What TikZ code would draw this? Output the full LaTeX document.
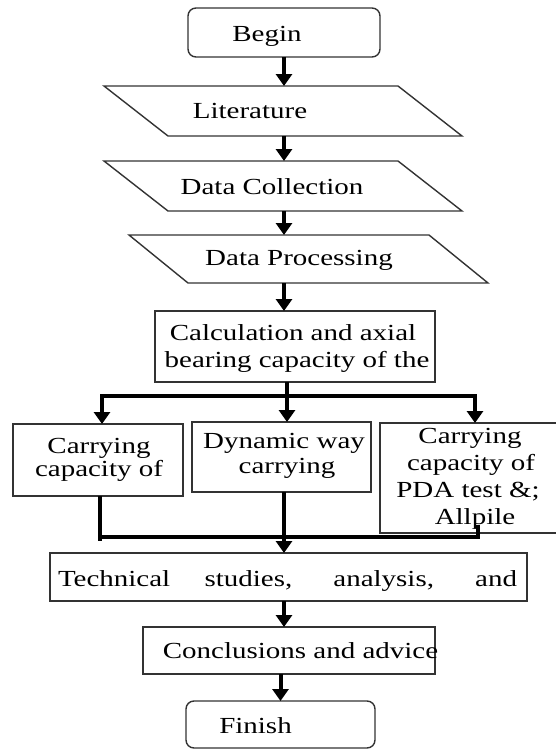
\documentclass[tikz,border=0pt]{standalone}
\usepackage{fontspec}
\setmainfont{Liberation Serif}[FakeStretch=1.26]
\usetikzlibrary{arrows.meta}
\begin{document}
\begin{tikzpicture}[x=1pt,y=-1pt,
  box/.style={draw=black!80,line width=1.4pt,inner sep=0pt,outer sep=0pt,rectangle},
  rbox/.style={box,rounded corners=8pt},
  ghost/.style={inner sep=0pt,outer sep=0pt,rectangle},
  pline/.style={draw=black!80,line width=1.4pt,line join=miter},
  lbl/.style={inner sep=0pt,outer sep=0pt,anchor=base,font=\fontsize{23}{27}\selectfont},
  arr/.style={line width=4pt,-{Triangle[width=16pt,length=12pt]}},
  ln/.style={line width=4pt}]
\useasboundingbox (0,0) rectangle (555,750);
% Begin
\node[rbox,minimum width=192pt,minimum height=49pt] (begin) at (284,32.5) {};
\node[lbl] (tbegin) at (267,41) {Begin};
% Literature
\node[ghost,minimum width=358pt,minimum height=50pt] (lit) at (283,111) {};
\draw[pline] (lit.north west) -- ++(294,0) -- (lit.south east) -- ++(-294,0) -- cycle;
\node[lbl] (tlit) at (250,118) {Literature};
% Data Collection
\node[ghost,minimum width=358pt,minimum height=50pt] (dc) at (283,186) {};
\draw[pline] (dc.north west) -- ++(294,0) -- (dc.south east) -- ++(-294,0) -- cycle;
\node[lbl] (tdc) at (272,194) {Data Collection};
% Data Processing
\node[ghost,minimum width=359pt,minimum height=48pt] (dp) at (308.5,259) {};
\draw[pline] (dp.north west) -- ++(300,0) -- (dp.south east) -- ++(-300,0) -- cycle;
\node[lbl] (tdp) at (299,265) {Data Processing};
% Calculation
\node[box,minimum width=280pt,minimum height=71pt] (calc) at (295,346.5) {};
\node[lbl] (tcalc1) at (293,340) {Calculation and axial};
\node[lbl] (tcalc2) at (297,367) {bearing capacity of the};
% three boxes
\node[box,minimum width=170pt,minimum height=72pt] (cl) at (98,460) {};
\node[lbl] (tcl1) at (99,453) {Carrying};
\node[lbl] (tcl2) at (99,476) {capacity of};
\node[box,minimum width=179pt,minimum height=70pt] (cm) at (281.5,457) {};
\node[lbl] (tcm1) at (284,448) {Dynamic way};
\node[lbl] (tcm2) at (287,473) {carrying};
\node[box,minimum width=180pt,minimum height=110pt] (cr) at (470,478) {};
\node[lbl] (tcr1) at (470,443) {Carrying};
\node[lbl] (tcr2) at (471,470) {capacity of};
\node[lbl] (tcr3) at (468,497) {PDA test \&;};
\node[lbl] (tcr4) at (475,524) {Allpile};
% Technical
\node[box,minimum width=477pt,minimum height=48pt] (tech) at (288.5,577) {};
\node[lbl] (ttech) at (287.5,586) {\makebox[459pt][s]{Technical studies, analysis, and}};
% Conclusions
\node[box,minimum width=292pt,minimum height=47pt] (concl) at (289,650.5) {};
\node[lbl] (tconcl) at (300.5,658) {Conclusions and advice};
% Finish
\node[rbox,minimum width=189pt,minimum height=47pt] (fin) at (280.5,724.5) {};
\node[lbl] (tfin) at (255.5,733) {Finish};
% connectors
\draw[arr] (begin.south) -- (begin.south |- lit.north);
\draw[arr] (begin.south |- lit.south) -- (begin.south |- dc.north);
\draw[arr] (begin.south |- dc.south) -- (begin.south |- dp.north);
\draw[arr] (begin.south |- dp.south) -- (begin.south |- calc.north);
\coordinate (bus) at (287,396);
\coordinate (busL) at (102,396);
\coordinate (busR) at (475,396);
\draw[arr] (bus |- calc.south) -- (bus |- cm.north);
\draw[ln,line cap=rect] (busL) -- (busR);
\draw[arr] (busL) -- (busL |- cl.north);
\draw[arr] (busR) -- (busR |- cr.north);
\coordinate (jL) at (100,537);
\coordinate (jLb) at (100,541);
\coordinate (jR) at (478,537);
\coordinate (jRt) at (478,525);
\draw[ln] (jL |- cl.south) -- (jLb);
\draw[ln,line join=miter] (jL) -- (jR) -- (jRt);
\draw[arr] (begin.south |- cm.south) -- (begin.south |- tech.north);
\draw[arr] (begin.south |- tech.south) -- (begin.south |- concl.north);
\draw[arr] (fin.north |- concl.south) -- (fin.north);
\end{tikzpicture}
\end{document}
